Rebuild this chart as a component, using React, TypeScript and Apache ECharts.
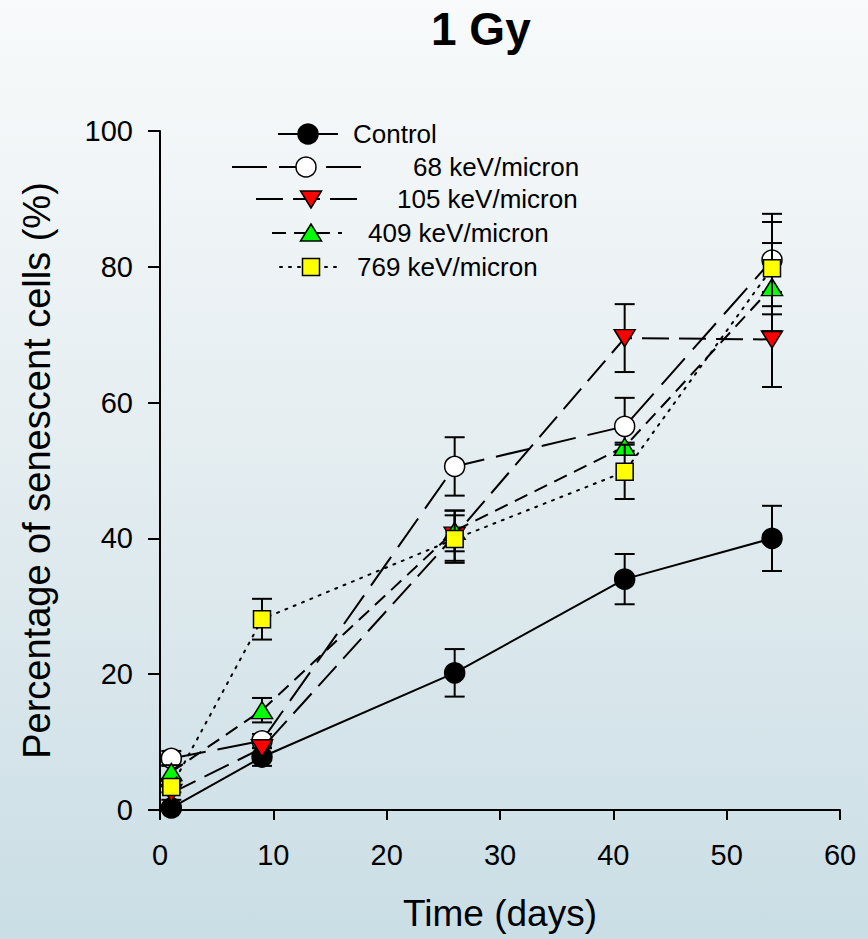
import React, { useEffect, useRef } from "react";
import * as echarts from "echarts";

const days = [1, 9, 26, 41, 54];
const seriesNames = ["Control", "68 keV/micron", "105 keV/micron", "409 keV/micron", "769 keV/micron"];
const control = [0.3, 7.8, 20.2, 34.0, 40.0];
const controlErr = [0.3, 1.3, 3.5, 3.7, 4.8];
const kev68 = [7.6, 10.2, 50.6, 56.5, 81.0];
const kev68Err = [1.1, 1.0, 4.3, 4.2, 6.8];
const kev105 = [2.5, 9.1, 40.4, 69.5, 69.3];
const kev105Err = [1.0, 1.0, 3.7, 5.0, 7.0];
const kev409 = [5.6, 14.7, 41.1, 53.5, 77.0];
const kev409Err = [1.0, 1.8, 3.0, 0.6, 6.5];
const kev769 = [3.4, 28.1, 39.9, 49.8, 79.8];
const kev769Err = [0.8, 3.0, 3.5, 4.0, 6.8];
const xTicks = { min: 0, max: 60, interval: 10 };
const yTicks = { min: 0, max: 100, interval: 20 };

const FONT = "Liberation Sans, Arial, sans-serif";

type Style = {
  symbol: string;
  size: number | number[];
  rotate: number;
  fill: string;
  dash: number[] | null;
};

const styles: Style[] = [
  { symbol: "circle", size: 20, rotate: 0, fill: "#000000", dash: null },
  { symbol: "circle", size: 20, rotate: 0, fill: "#ffffff", dash: [35, 12] },
  { symbol: "triangle", size: [21, 17], rotate: 180, fill: "#ff0000", dash: [27, 10] },
  { symbol: "triangle", size: [21, 17], rotate: 0, fill: "#00ff00", dash: [14, 8] },
  { symbol: "rect", size: 17, rotate: 0, fill: "#ffff00", dash: [2, 7] },
];

const values = [control, kev68, kev105, kev409, kev769];
const errors = [controlErr, kev68Err, kev105Err, kev409Err, kev769Err];

function markerGraphic(i: number, cx: number, cy: number) {
  const s = styles[i];
  const st = { fill: s.fill, stroke: "#000", lineWidth: 1.5 };
  if (s.symbol === "circle") {
    return { type: "circle", shape: { cx, cy, r: 10 }, style: st, z: 20 };
  }
  if (s.symbol === "rect") {
    return { type: "rect", shape: { x: cx - 8.5, y: cy - 8.5, width: 17, height: 17 }, style: st, z: 20 };
  }
  if (s.rotate === 180) {
    return {
      type: "polygon",
      shape: { points: [[cx - 10.5, cy - 8], [cx + 10.5, cy - 8], [cx, cy + 9]] },
      style: st,
      z: 20,
    };
  }
  return {
    type: "polygon",
    shape: { points: [[cx - 10.5, cy + 8], [cx + 10.5, cy + 8], [cx, cy - 9]] },
    style: st,
    z: 20,
  };
}

const legendRows = [
  { y: 134, x1: 278, x2: 338, mx: 308, tx: 353 },
  { y: 167, x1: 232, x2: 366, mx: 306, tx: 413 },
  { y: 199, x1: 256, x2: 357, mx: 311, tx: 397 },
  { y: 233, x1: 272, x2: 342, mx: 311, tx: 368 },
  { y: 267, x1: 280, x2: 342, mx: 311, tx: 357 },
];

export default function App() {
  const ref = useRef<HTMLDivElement>(null);
  useEffect(() => {
    if (!ref.current) return;
    const chart = echarts.init(ref.current, null, { renderer: "svg" });

    const series: any[] = [];
    values.forEach((vals, i) => {
      const errs = errors[i];
      series.push({
        type: "custom",
        name: seriesNames[i] + " error",
        z: 2 + i * 2,
        silent: true,
        data: days.map((d, k) => [d, vals[k], vals[k] - errs[k], vals[k] + errs[k]]),
        renderItem: (params: any, api: any) => {
          const x = api.value(0);
          const lo = api.coord([x, api.value(2)]);
          const hi = api.coord([x, api.value(3)]);
          const hw = 10;
          const ls = { stroke: "#000", lineWidth: 2 };
          return {
            type: "group",
            children: [
              { type: "line", shape: { x1: lo[0], y1: lo[1], x2: hi[0], y2: hi[1] }, style: ls },
              { type: "line", shape: { x1: lo[0] - hw, y1: lo[1], x2: lo[0] + hw, y2: lo[1] }, style: ls },
              { type: "line", shape: { x1: hi[0] - hw, y1: hi[1], x2: hi[0] + hw, y2: hi[1] }, style: ls },
            ],
          };
        },
      });
      const s = styles[i];
      series.push({
        type: "line",
        name: seriesNames[i],
        z: 3 + i * 2,
        data: days.map((d, k) => [d, vals[k]]),
        symbol: s.symbol,
        symbolSize: s.size,
        symbolRotate: s.rotate,
        showAllSymbol: true,
        lineStyle: {
          color: "#000",
          width: 2,
          type: s.dash ? s.dash : "solid",
          cap: s.dash && s.dash[0] <= 2 ? "round" : "butt",
        },
        itemStyle: { color: s.fill, borderColor: "#000", borderWidth: 1.5 },
        emphasis: { disabled: true },
      });
    });

    const graphics: any[] = [];
    legendRows.forEach((r, i) => {
      const s = styles[i];
      graphics.push({
        type: "line",
        shape: { x1: r.x1, y1: r.y, x2: r.x2, y2: r.y },
        style: {
          stroke: "#000",
          lineWidth: 2,
          lineDash: s.dash ? s.dash : null,
          lineCap: s.dash && s.dash[0] <= 2 ? "round" : "butt",
        },
        z: 19,
      });
      graphics.push(markerGraphic(i, r.mx, r.y));
      graphics.push({
        type: "text",
        x: r.tx,
        y: r.y,
        style: {
          text: seriesNames[i],
          font: `26px ${FONT}`,
          fill: "#000",
          textVerticalAlign: "middle",
          verticalAlign: "middle",
        },
        z: 20,
      });
    });

    chart.setOption({
      animation: false,
      backgroundColor: "transparent",
      title: {
        text: "1 Gy",
        left: 426,
        top: 1,
        textStyle: { fontFamily: FONT, fontWeight: "bold", fontSize: 46, color: "#000" },
      },
      grid: { left: 160, right: 28, top: 131, bottom: 129 },
      xAxis: {
        type: "value",
        min: xTicks.min,
        max: xTicks.max,
        interval: xTicks.interval,
        name: "Time (days)",
        nameLocation: "middle",
        nameGap: 85,
        nameTextStyle: { fontFamily: FONT, fontSize: 37, color: "#000" },
        axisLine: { show: true, onZero: false, lineStyle: { color: "#000", width: 2 } },
        axisTick: { show: true, inside: false, length: 10, lineStyle: { color: "#000", width: 2 } },
        axisLabel: { margin: 30, fontFamily: FONT, fontSize: 29, color: "#000" },
        splitLine: { show: false },
      },
      yAxis: {
        type: "value",
        min: yTicks.min,
        max: yTicks.max,
        interval: yTicks.interval,
        name: "Percentage of senescent cells (%)",
        nameLocation: "middle",
        nameGap: 104,
        nameTextStyle: { fontFamily: FONT, fontSize: 38, color: "#000" },
        axisLine: { show: true, onZero: false, lineStyle: { color: "#000", width: 2 } },
        axisTick: { show: true, inside: false, length: 12, lineStyle: { color: "#000", width: 2 } },
        axisLabel: { margin: 27, fontFamily: FONT, fontSize: 29, color: "#000" },
        splitLine: { show: false },
      },
      graphic: graphics,
      series,
    });
    return () => chart.dispose();
  }, []);

  return (
    <div
      style={{
        position: "fixed",
        left: 0,
        top: 0,
        width: 868,
        height: 939,
        background: "linear-gradient(to bottom, #f8fafb 0%, #e6eef1 45%, #cadee5 100%)",
      }}
    >
      <div ref={ref} style={{ width: 868, height: 939 }} />
    </div>
  );
}
